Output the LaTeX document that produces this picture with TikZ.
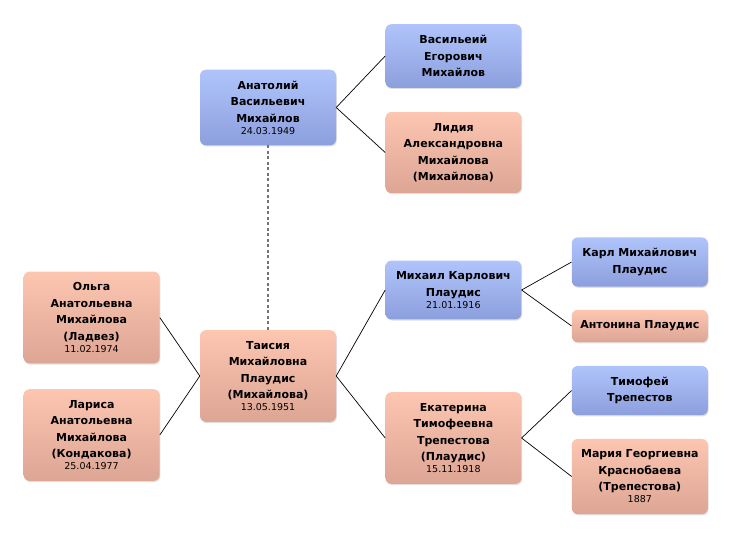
\documentclass[tikz,border=0pt]{standalone}
\usepackage{fontspec}
\setmainfont{DejaVu Sans}
\usetikzlibrary{positioning, shadows}
\definecolor{bluetop}{HTML}{B0C4FB}
\definecolor{bluebot}{HTML}{8C9FDD}
\definecolor{pinktop}{HTML}{FCC6B1}
\definecolor{pinkbot}{HTML}{DDA594}
\newcommand{\born}[1]{\\[-4.5pt]{\mdseries\fontsize{9.5}{11}\selectfont #1}}

\begin{document}
\begin{tikzpicture}[x=1pt, y=-1pt, node distance=49pt,
  box/.style={rounded corners=6pt, minimum width=136pt, text width=130pt, inner xsep=3pt, inner ysep=11pt, align=center,
    font=\bfseries\fontsize{11}{16.5}\selectfont, drop shadow={shadow xshift=0.8pt, shadow yshift=-1.2pt, opacity=0.25}},
  man/.style={box, top color=bluetop, bottom color=bluebot},
  woman/.style={box, top color=pinktop, bottom color=pinkbot},
  link/.style={draw, line width=0.7pt}]
\useasboundingbox (0,0) rectangle (732,539);
\node[woman] (tais) at (268,376) {Таисия\\ Михайловна\\ Плаудис\\ (Михайлова)\born{13.05.1951}};
\node[man] (anat) at (268,107.5) {Анатолий\\ Васильевич\\ Михайлов\born{24.03.1949}};
\node[man, right=of anat, yshift=51.5pt] (vasi) {Васильеий\\ Егорович\\ Михайлов};
\node[woman, right=of anat, yshift=-45pt] (lidi) {Лидия\\ Александровна\\ Михайлова\\ (Михайлова)};
\node[woman, left=40pt of tais, yshift=58.5pt] (olga) {Ольга\\ Анатольевна\\ Михайлова\\ (Ладвез)\born{11.02.1974}};
\node[woman, left=40pt of tais, yshift=-59pt] (lari) {Лариса\\ Анатольевна\\ Михайлова\\ (Кондакова)\born{25.04.1977}};
\node[man, right=of tais, yshift=86pt] (mikh) {Михаил Карлович\\ Плаудис\born{21.01.1916}};
\node[woman, right=of tais, yshift=-62pt] (ekat) {Екатерина\\ Тимофеевна\\ Трепестова\\ (Плаудис)\born{15.11.1918}};
\node[man, right=50pt of mikh, yshift=28pt] (karl) {Карл Михайлович\\ Плаудис};
\node[woman, right=50pt of mikh, yshift=-36pt] (anto) {Антонина Плаудис};
\node[man, right=50pt of ekat, yshift=47.5pt] (timo) {Тимофей\\ Трепестов};
\node[woman, right=50pt of ekat, yshift=-38.5pt] (mari) {Мария Георгиевна\\ Краснобаева\\ (Трепестова)\born{1887}};
% parents
\draw[link] (anat.east) -- (vasi.west); \draw[link] (anat.east) -- (lidi.west);
\draw[link] (tais.east) -- (mikh.west); \draw[link] (tais.east) -- (ekat.west);
\draw[link] (mikh.east) -- (karl.west); \draw[link] (mikh.east) -- (anto.west);
\draw[link] (ekat.east) -- (timo.west); \draw[link] (ekat.east) -- (mari.west);
% children
\draw[link] (olga.east) -- (tais.west); \draw[link] (lari.east) -- (tais.west);
% spouse
\draw[draw=black!55, line width=1.3pt, dash pattern=on 3pt off 2.5pt] (anat.south) -- (tais.north);
\end{tikzpicture}
\end{document}
